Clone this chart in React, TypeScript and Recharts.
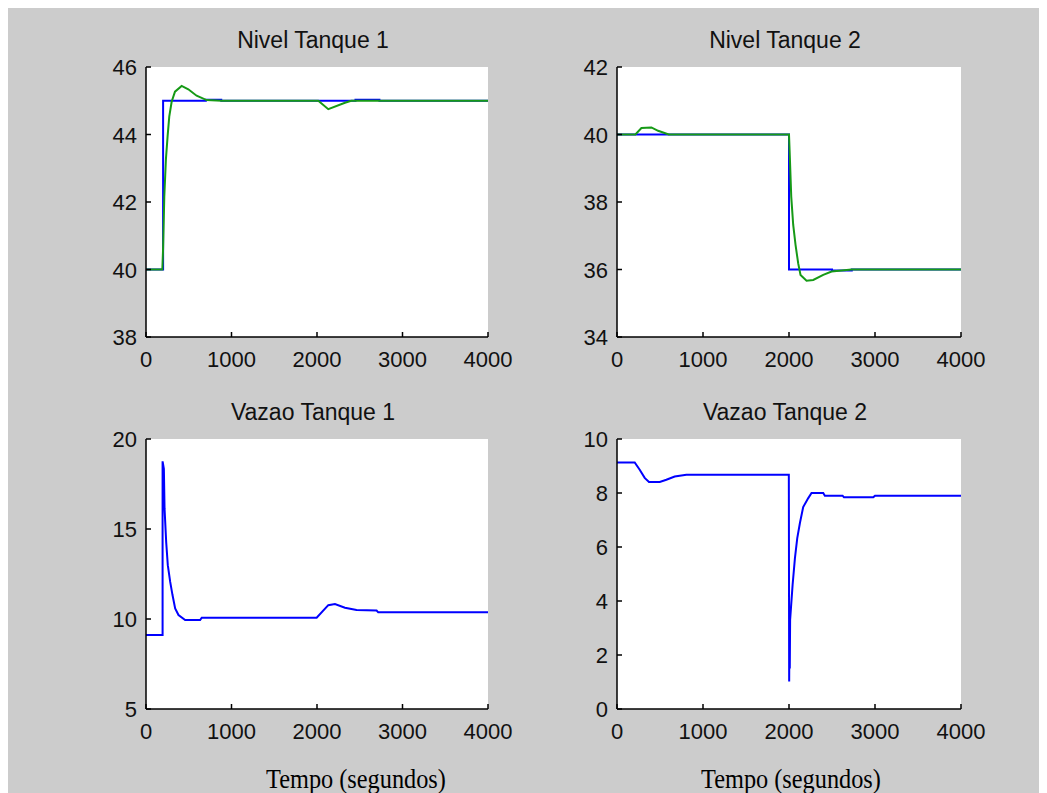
import React from "react";
import { LineChart, Line, XAxis, YAxis, CartesianGrid } from "recharts";

// eixo do tempo comum
const xTicks = [0, 1000, 2000, 3000, 4000];

// Nivel Tanque 1
const n1BlueT = [0, 200, 200, 700, 700, 880, 880, 2450, 2450, 2730, 2730, 4000];
const n1BlueV = [40, 40, 45, 45, 45.03, 45.03, 45, 45, 45.03, 45.03, 45, 45];
const n1GreenT = [0, 191, 200, 214, 233, 253, 272, 300, 339, 417, 495, 592, 709, 884, 2015, 2132, 2327, 2400, 4000];
const n1GreenV = [40, 40, 40.63, 42.16, 43.27, 43.96, 44.53, 44.97, 45.27, 45.44, 45.34, 45.15, 45.02, 45, 45, 44.75, 44.94, 45, 45];
const n1Ticks = [38, 40, 42, 44, 46];

// Nivel Tanque 2
const n2BlueT = [0, 2000, 2000, 2500, 2500, 2730, 2730, 4000];
const n2BlueV = [40, 40, 36, 36, 35.97, 35.97, 36, 36];
const n2GreenT = [0, 214, 284, 400, 478, 602, 2000, 2010, 2026, 2049, 2076, 2107, 2134, 2204, 2282, 2398, 2495, 2728, 4000];
const n2GreenV = [40, 40, 40.19, 40.21, 40.11, 40, 40, 39.32, 38.16, 37.32, 36.73, 36.18, 35.84, 35.67, 35.69, 35.84, 35.94, 36, 36];
const n2Ticks = [34, 36, 38, 40, 42];

// Vazao Tanque 1
const v1T = [0, 194, 194, 209, 217, 236, 255, 283, 310, 341, 380, 458, 633, 652, 1996, 2132, 2210, 2327, 2463, 2697, 2716, 4000];
const v1V = [9.11, 9.11, 18.76, 18.34, 16.13, 14.28, 12.99, 12.06, 11.33, 10.59, 10.22, 9.94, 9.94, 10.07, 10.07, 10.77, 10.83, 10.63, 10.5, 10.47, 10.37, 10.37];
const v1Ticks = [5, 10, 15, 20];

// Vazao Tanque 2
const v2T = [0, 206, 264, 322, 372, 497, 574, 671, 807, 1998, 2002, 2006, 2009, 2013, 2042, 2069, 2096, 2127, 2165, 2224, 2262, 2398, 2417, 2623, 2639, 2980, 3000, 4000];
const v2V = [9.13, 9.13, 8.86, 8.56, 8.41, 8.41, 8.49, 8.61, 8.68, 8.68, 1.02, 3.31, 1.5, 3.3, 4.6, 5.59, 6.33, 6.89, 7.48, 7.81, 8.0, 8.0, 7.9, 7.9, 7.84, 7.84, 7.9, 7.9];
const v2Ticks = [0, 2, 4, 6, 8, 10];

const zip = (t: number[], v: number[]) => t.map((x, i) => ({ t: x, v: v[i] }));

const BLUE = "#0000ff";
const GREEN = "#169a16";
const tickFont = '"Liberation Sans", Arial, sans-serif';

const XTick = (props: any) => {
  const { x, y, payload } = props;
  return (
    <g>
      <line x1={x} y1={y} x2={x} y2={y - 5} stroke="#000" strokeWidth={1.5} />
      <text x={x} y={y + 30} textAnchor="middle" fontSize={22} fontFamily={tickFont} fill="#111">
        {payload.value}
      </text>
    </g>
  );
};

const YTick = (props: any) => {
  const { x, y, payload } = props;
  return (
    <g>
      <line x1={x} y1={y} x2={x + 5} y2={y} stroke="#000" strokeWidth={1.5} />
      <text x={x - 9} y={y + 8} textAnchor="end" fontSize={22} fontFamily={tickFont} fill="#111">
        {payload.value}
      </text>
    </g>
  );
};

interface Serie {
  data: { t: number; v: number }[];
  color: string;
}

interface PanelProps {
  title: string;
  left: number;
  top: number;
  w: number;
  h: number;
  domain: [number, number];
  ticks: number[];
  series: Serie[];
}

const AX_W = 60;
const MT = 20;

function Panel({ title, left, top, w, h, domain, ticks, series }: PanelProps) {
  return (
    <>
      <div
        style={{
          position: "absolute",
          left: left - 7 - 4,
          top: top - 7 - 41,
          width: w,
          textAlign: "center",
          fontFamily: tickFont,
          fontSize: 23,
          lineHeight: "28px",
          color: "#111",
        }}
      >
        {title}
      </div>
      <div style={{ position: "absolute", left: left - 7 - AX_W, top: top - 7 - MT }}>
        <LineChart width={AX_W + w + 40} height={MT + h + 45} margin={{ top: MT, right: 40, left: 0, bottom: 0 }}>
          <CartesianGrid horizontal={false} vertical={false} fill="#ffffff" />
          <XAxis
            dataKey="t"
            type="number"
            domain={[0, 4000]}
            ticks={xTicks}
            allowDataOverflow
            height={45}
            tickSize={0}
            tickMargin={0}
            tickLine={false}
            axisLine={{ stroke: "#000", strokeWidth: 1.5 }}
            tick={<XTick />}
            interval={0}
          />
          <YAxis
            type="number"
            domain={domain}
            ticks={ticks}
            allowDataOverflow
            width={AX_W}
            tickSize={0}
            tickMargin={0}
            tickLine={false}
            axisLine={{ stroke: "#000", strokeWidth: 1.5 }}
            tick={<YTick />}
            interval={0}
          />
          {series.map((s, i) => (
            <Line
              key={i}
              data={s.data}
              dataKey="v"
              type="linear"
              stroke={s.color}
              strokeWidth={2}
              dot={false}
              isAnimationActive={false}
            />
          ))}
        </LineChart>
      </div>
    </>
  );
}

export default function App() {
  const xlabel: React.CSSProperties = {
    position: "absolute",
    top: 759,
    width: 300,
    textAlign: "center",
    fontFamily: '"Liberation Serif", "Times New Roman", serif',
    fontSize: 27,
    lineHeight: "26px",
    color: "#000",
    transform: "scaleX(0.9)",
  };
  return (
    <div
      style={{
        position: "relative",
        marginLeft: -1,
        marginTop: -1,
        width: 1040,
        height: 786,
        background: "#cccccc",
        overflow: "hidden",
      }}
    >
      <Panel
        title="Nivel Tanque 1"
        left={146}
        top={67}
        w={342}
        h={270}
        domain={[38, 46]}
        ticks={n1Ticks}
        series={[
          { data: zip(n1BlueT, n1BlueV), color: BLUE },
          { data: zip(n1GreenT, n1GreenV), color: GREEN },
        ]}
      />
      <Panel
        title="Nivel Tanque 2"
        left={617}
        top={67}
        w={344}
        h={270}
        domain={[34, 42]}
        ticks={n2Ticks}
        series={[
          { data: zip(n2BlueT, n2BlueV), color: BLUE },
          { data: zip(n2GreenT, n2GreenV), color: GREEN },
        ]}
      />
      <Panel
        title="Vazao Tanque 1"
        left={146}
        top={439}
        w={342}
        h={270}
        domain={[5, 20]}
        ticks={v1Ticks}
        series={[{ data: zip(v1T, v1V), color: BLUE }]}
      />
      <Panel
        title="Vazao Tanque 2"
        left={617}
        top={439}
        w={344}
        h={270}
        domain={[0, 10]}
        ticks={v2Ticks}
        series={[{ data: zip(v2T, v2V), color: BLUE }]}
      />
      <div style={{ ...xlabel, left: 356 - 7 - 150 }}>Tempo (segundos)</div>
      <div style={{ ...xlabel, left: 791 - 7 - 150 }}>Tempo (segundos)</div>
    </div>
  );
}
